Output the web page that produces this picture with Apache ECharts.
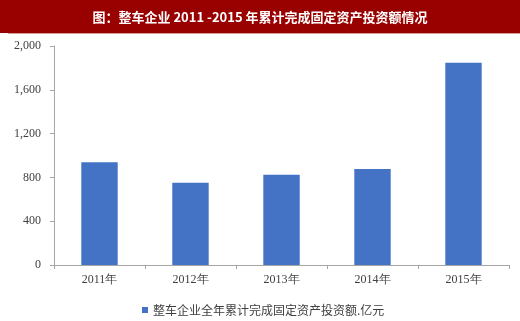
<!DOCTYPE html>
<html><head><meta charset="utf-8">
<script src="https://cdn.jsdelivr.net/npm/echarts@6/dist/echarts.min.js"></script>
<style>html,body{margin:0;padding:0;background:#fff}#c{width:520px;height:321px}</style>
</head><body><div id="c"></div>
<script>
var titleText = '图：整车企业 2011 -2015 年累计完成固定资产投资额情况';
var categories = ['2011年','2012年','2013年','2014年','2015年'];
var seriesName = '整车企业全年累计完成固定资产投资额.亿元';
var values = [938, 752, 825, 877, 1848];
var chart = echarts.init(document.getElementById('c'));
chart.setOption({
  animation: false,
  graphic: [
    {type:'rect', shape:{x:0,y:0,width:520,height:33}, style:{fill:'#990000'}, z:0},
    {type:'rect', shape:{x:8,y:33,width:512,height:1}, style:{fill:'#d9a0a0'}, z:0}
  ],
  title: {text: titleText, left: 'center', top: 6,
    textStyle:{color:'#fff', fontSize:13, fontWeight:'bold', fontFamily:'"Noto Sans CJK SC", sans-serif'}},
  grid: {left:54, right:11, top:46, bottom:56, containLabel:false},
  legend: {data:[seriesName], left:137, top:299, itemWidth:6, itemHeight:6, itemGap:4,
    icon:'rect', textStyle:{color:'#404040', fontSize:12, fontFamily:'"Noto Sans CJK SC", sans-serif'}},
  xAxis: {type:'category', data: categories,
    axisLine:{lineStyle:{color:'#a6a6a6'}},
    axisTick:{show:true, alignWithLabel:false, length:4, lineStyle:{color:'#a6a6a6'}},
    axisLabel:{color:'#404040', fontSize:12, fontFamily:'"Liberation Serif", serif', margin:9}},
  yAxis: {type:'value', min:0, max:2000, interval:400,
    axisLine:{show:true, lineStyle:{color:'#a6a6a6'}},
    axisTick:{show:true, length:4, lineStyle:{color:'#a6a6a6'}},
    splitLine:{show:false},
    axisLabel:{color:'#404040', fontSize:12, fontFamily:'"Liberation Serif", serif', margin:13,
      formatter: function(v){ return v.toLocaleString('en-US'); }}},
  series: [{name: seriesName, type:'bar', data: values, barWidth:'40%',
    itemStyle:{color:'#4472c4'}}]
});
</script></body></html>
